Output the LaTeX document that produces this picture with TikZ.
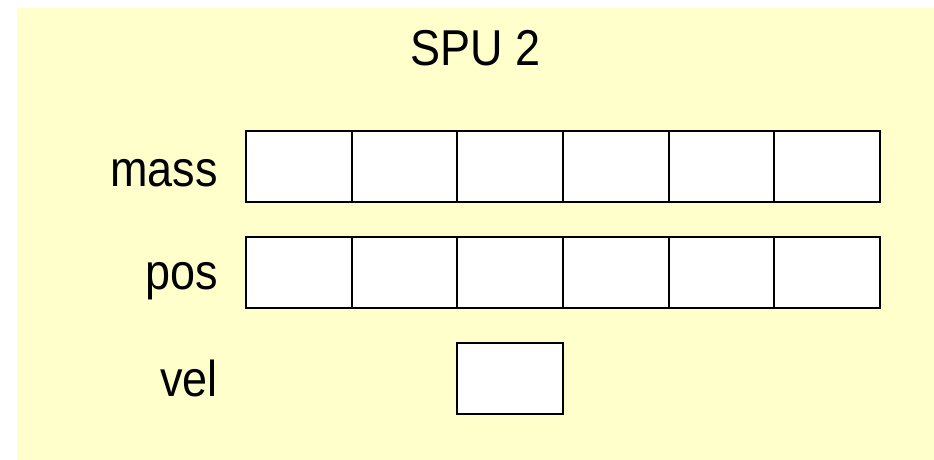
\documentclass[tikz,border=0pt]{standalone}
\usepackage{fontspec}
\setmainfont{Liberation Sans}
\definecolor{bgyellow}{HTML}{FFFFCC}
\tikzset{
  cell/.style={draw=black, fill=white, line width=2pt, minimum width=105.67pt, minimum height=71pt, inner sep=0pt, outer sep=0pt},
  lbl/.style={anchor=base east, inner sep=0pt, font=\fontsize{45}{54}\selectfont},
  ttl/.style={anchor=base, inner sep=0pt, font=\fontsize{45}{54}\selectfont}
}
\newcommand{\tallt}[1]{\scalebox{1}[1.12]{#1}}
\begin{document}
\begin{tikzpicture}[x=1pt, y=-1pt]
\useasboundingbox (0,0) rectangle (934,459);
\fill[white] (0,0) rectangle (934,459);
\fill[bgyellow] (17,8) rectangle (940,465);
\node[ttl] (title) at (475.5,65) {\tallt{SPU 2}};
\node[lbl] (lmass) at (218,186) {\tallt{mass}};
\node[lbl] (lpos) at (218,289) {\tallt{pos}};
\node[lbl] (lvel) at (218,396) {\tallt{vel}};
\foreach \i in {0,...,5} {
  \node[cell] (m\i) at ({246+105.67*(\i+0.5)},166.5) {};
  \node[cell] (p\i) at ({246+105.67*(\i+0.5)},272.5) {};
}
\node[cell] (v0) at ({246+105.67*2.5},378) {};
\end{tikzpicture}
\end{document}
